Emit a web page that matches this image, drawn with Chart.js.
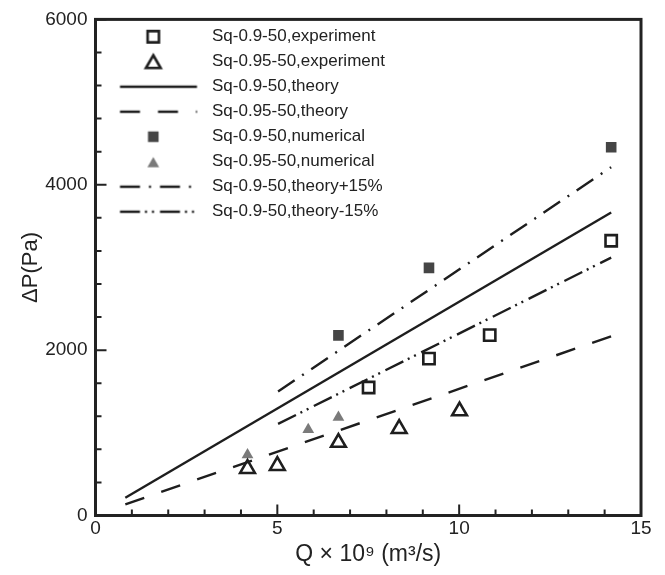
<!DOCTYPE html>
<html><head><meta charset="utf-8">
<script src="https://cdn.jsdelivr.net/npm/chart.js@4"></script>
<style>html,body{margin:0;padding:0;background:#fff}#wrap{width:665px;height:575px}</style>
</head><body><div id="wrap"><canvas id="c" width="665" height="575"></canvas></div>
<script>
// ---- data ----
const seriesNames = [
  'Sq-0.9-50,experiment',
  'Sq-0.95-50,experiment',
  'Sq-0.9-50,theory',
  'Sq-0.95-50,theory',
  'Sq-0.9-50,numerical',
  'Sq-0.95-50,numerical',
  'Sq-0.9-50,theory+15%',
  'Sq-0.9-50,theory-15%'
];
const exp09X = [7.51, 9.17, 10.84, 14.18];
const exp09Y = [1548, 1897, 2181, 3323];
const exp095X = [4.18, 5.0, 6.68, 8.35, 10.01];
const exp095Y = [566, 602, 882, 1050, 1263];
const theory09X = [0.82, 14.18];
const theory09Y = [215, 3665];
const theory095X = [0.82, 14.18];
const theory095Y = [135, 2168];
const num09X = [6.68, 9.17, 14.18];
const num09Y = [2178, 2995, 4453];
const num095X = [4.18, 5.85, 6.68];
const num095Y = [734, 1040, 1187];
const plus15X = [5.02, 14.18];
const plus15Y = [1500, 4213];
const minus15X = [5.02, 14.18];
const minus15Y = [1108, 3119];
const xTickValues = [0, 5, 10, 15];
const yTickValues = [0, 2000, 4000, 6000];
const xTitle = 'Q \u00d7 10\u2079 (m\u00b3/s)';
const yTitle = '\u0394P(Pa)';

function pts(xs, ys) { return xs.map((v, i) => ({x: v, y: ys[i]})); }

const INK = '#1e1e1e';
const FONT = "'Liberation Sans', Arial, Helvetica, sans-serif";

const datasets = [
  {label: seriesNames[0], data: pts(exp09X, exp09Y), showLine: false, pointStyle: 'rect', pointRadius: 8, pointHoverRadius: 8,
   borderColor: INK, backgroundColor: 'rgba(0,0,0,0)', pointBorderWidth: 2.6},
  {label: seriesNames[1], data: pts(exp095X, exp095Y), showLine: false, pointStyle: 'triangle', pointRadius: 8.5, pointHoverRadius: 8.5,
   borderColor: INK, backgroundColor: 'rgba(0,0,0,0)', pointBorderWidth: 2.6},
  {label: seriesNames[2], data: pts(theory09X, theory09Y), showLine: true, pointRadius: 0, borderColor: INK, borderWidth: 2.4, borderDash: []},
  {label: seriesNames[3], data: pts(theory095X, theory095Y), showLine: true, pointRadius: 0, borderColor: INK, borderWidth: 2.4, borderDash: [20, 18]},
  {label: seriesNames[4], data: pts(num09X, num09Y), showLine: false, pointStyle: 'rect', pointRadius: 7.5, pointHoverRadius: 7.5,
   borderColor: '#454545', backgroundColor: '#454545', pointBorderWidth: 0},
  {label: seriesNames[5], data: pts(num095X, num095Y), showLine: false, pointStyle: 'triangle', pointRadius: 6.8, pointHoverRadius: 6.8,
   borderColor: '#7a7a7a', backgroundColor: '#7a7a7a', pointBorderWidth: 0},
  {label: seriesNames[6], data: pts(plus15X, plus15Y), showLine: true, pointRadius: 0, borderColor: INK, borderWidth: 2.4, borderDash: [20, 9, 2, 9]},
  {label: seriesNames[7], data: pts(minus15X, minus15Y), showLine: true, pointRadius: 0, borderColor: INK, borderWidth: 2.4, borderDash: [20, 5, 2, 5, 2, 6]}
];

// legend swatches (canvas images used as the legend's point style)
const SW_W = 100, SW_H = 22, LINE_X0 = 16.5, LINE_X1 = 93.5, MARK_X = 49.8;
function swatch(ds) {
  const c = document.createElement('canvas');
  c.width = SW_W; c.height = SW_H;
  const g = c.getContext('2d');
  const cy = SW_H / 2;
  if (ds.showLine) {
    g.strokeStyle = ds.borderColor; g.lineWidth = ds.borderWidth;
    g.setLineDash(ds.borderDash || []);
    g.beginPath(); g.moveTo(LINE_X0, cy); g.lineTo(LINE_X1, cy); g.stroke();
  } else {
    g.fillStyle = ds.backgroundColor; g.strokeStyle = ds.borderColor; g.lineWidth = ds.pointBorderWidth;
    Chart.helpers.drawPoint(g, {pointStyle: ds.pointStyle, radius: ds.pointRadius, borderWidth: ds.pointBorderWidth, rotation: 0}, MARK_X, cy + (ds.pointStyle === 'triangle' ? 2 : 0));
  }
  return c;
}

const frameTicks = {
  id: 'frameTicks',
  afterDatasetsDraw(chart) {
    const {ctx, chartArea: a, scales: {x, y}} = chart;
    ctx.save();
    ctx.strokeStyle = '#222';
    ctx.lineWidth = 2;
    ctx.beginPath();
    for (let v = 0; v <= 15; v += 1) {
      const px = x.getPixelForValue(v);
      const len = (v % 5 === 0) ? 11 : 6;
      ctx.moveTo(px, a.bottom); ctx.lineTo(px, a.bottom - len);
    }
    for (let v = 0; v <= 6000; v += 400) {
      const py = y.getPixelForValue(v);
      const len = (v % 2000 === 0) ? 11 : 6;
      ctx.moveTo(a.left, py); ctx.lineTo(a.left + len, py);
    }
    ctx.stroke();
    ctx.lineWidth = 3;
    ctx.strokeRect(a.left, a.top, a.right - a.left, a.bottom - a.top);
    ctx.restore();
  }
};

Chart.defaults.font.family = FONT;
Chart.defaults.color = '#222';

new Chart(document.getElementById('c'), {
  type: 'scatter',
  data: {datasets},
  options: {
    responsive: false,
    devicePixelRatio: 1,
    animation: false,
    layout: {padding: {left: 0, right: 24, top: 16.5, bottom: 0}},
    scales: {
      x: {
        type: 'linear', min: 0, max: 15,
        afterBuildTicks: (s) => { s.ticks = xTickValues.map(v => ({value: v})); },
        afterFit: (s) => { s.height = 59.5; },
        grid: {display: false, drawTicks: false},
        border: {display: false},
        ticks: {padding: 2, font: {size: 19}, color: '#222', callback: (v) => String(v), maxRotation: 0},
        title: {display: true, text: xTitle, font: {size: 23}, color: '#222', padding: {top: 0, bottom: 7}}
      },
      y: {
        type: 'linear', min: 0, max: 6000,
        afterBuildTicks: (s) => { s.ticks = yTickValues.map(v => ({value: v})); },
        afterFit: (s) => { s.width = 95.5; },
        grid: {display: false, drawTicks: false},
        border: {display: false},
        ticks: {padding: 8, font: {size: 19}, color: '#222', callback: (v) => String(v)},
        title: {display: true, text: yTitle, font: {size: 22}, color: '#222', padding: {top: 18, bottom: 0}}
      }
    },
    plugins: {
      tooltip: {enabled: false},
      legend: {
        position: 'chartArea',
        align: 'start',
        title: {display: true, text: ' ', font: {size: 1}, padding: 9.5},
        labels: {
          usePointStyle: true,
          pointStyleWidth: SW_W,
          padding: 8,
          font: {size: 17},
          color: '#222',
          generateLabels: (chart) => chart.data.datasets.map((ds, i) => ({
            text: ds.label,
            pointStyle: swatch(ds),
            fillStyle: 'rgba(0,0,0,0)',
            strokeStyle: 'rgba(0,0,0,0)',
            lineWidth: 0,
            hidden: false,
            datasetIndex: i,
            fontColor: '#222'
          }))
        }
      }
    }
  },
  plugins: [frameTicks]
});
</script>
</body></html>
